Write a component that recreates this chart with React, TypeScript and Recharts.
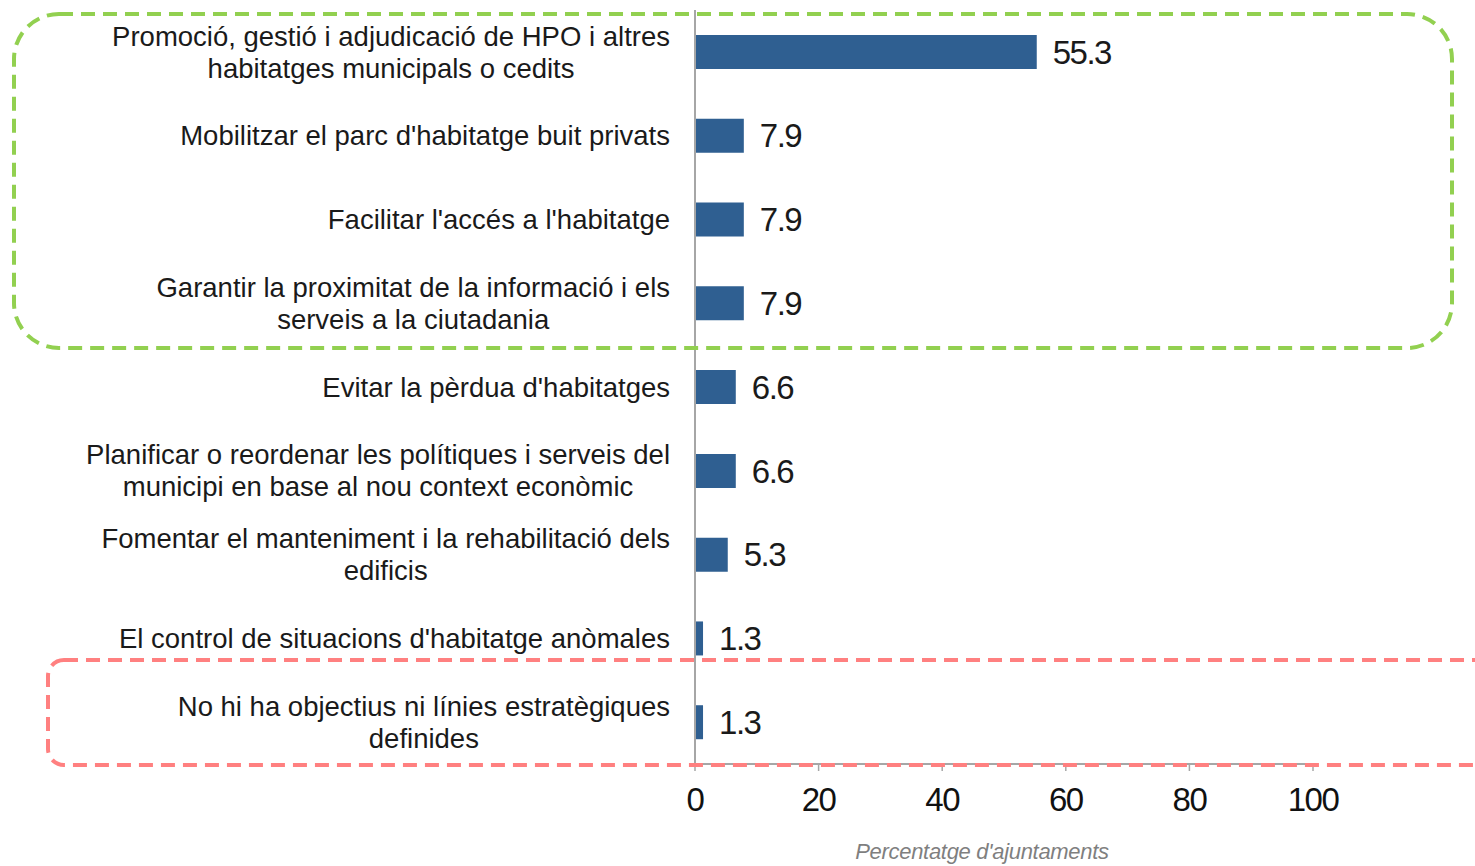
import React from "react";
import { BarChart, Bar, XAxis, YAxis, LabelList, Label } from "recharts";

const categories = [
  "Promoció, gestió i adjudicació de HPO i altres\nhabitatges municipals o cedits",
  "Mobilitzar el parc d'habitatge buit privats",
  "Facilitar l'accés a l'habitatge",
  "Garantir la proximitat de la informació i els\nserveis a la ciutadania",
  "Evitar la pèrdua d'habitatges",
  "Planificar o reordenar les polítiques i serveis del\nmunicipi en base al nou context econòmic",
  "Fomentar el manteniment i la rehabilitació dels\nedificis",
  "El control de situacions d'habitatge anòmales",
  "No hi ha objectius ni línies estratègiques\ndefinides",
];
const percentages = [55.3, 7.9, 7.9, 7.9, 6.6, 6.6, 5.3, 1.3, 1.3];
const xTicks = [0, 20, 40, 60, 80, 100];
const axisTitle = "Percentatge d'ajuntaments";

const data = categories.map((name, i) => ({ name, value: percentages[i] }));

const LABEL_FONT_SIZE = 27.5;
const LABEL_FAMILY = "'Liberation Sans', Arial, sans-serif";
const NARROW = "'Liberation Sans Narrow', 'Arial Narrow', 'Liberation Sans', sans-serif";
const AXIS_GREY = "#a6a6a6";

let measureCtx: CanvasRenderingContext2D | null = null;
function textWidth(s: string) {
  if (!measureCtx) {
    measureCtx = document.createElement("canvas").getContext("2d");
  }
  if (!measureCtx) return s.length * LABEL_FONT_SIZE * 0.5;
  measureCtx.font = `${LABEL_FONT_SIZE}px ${LABEL_FAMILY}`;
  return measureCtx.measureText(s).width;
}

// multi-line label, lines centred on each other, right edge at the tick x
function CategoryTick(props: any) {
  const { x, y, payload } = props;
  const lines: string[] = String(payload.value).split("\n");
  const w = Math.max(...lines.map(textWidth));
  const cx = x - w / 2;
  const lh = 32;
  const y0 = y - ((lines.length - 1) * lh) / 2;
  return (
    <text textAnchor="middle" fontFamily={LABEL_FAMILY} fontSize={LABEL_FONT_SIZE} fill="#1a1a1a">
      {lines.map((l, i) => (
        <tspan key={i} x={cx} y={y0 + i * lh} dy="0.35em">
          {l}
        </tspan>
      ))}
    </text>
  );
}

function AxisTitle(props: any) {
  const { viewBox } = props;
  return (
    <text
      x={viewBox.x + viewBox.width / 2 - 22}
      y={viewBox.y + 95}
      textAnchor="middle"
      fontFamily={NARROW}
      fontStyle="italic"
      fontSize={22}
      letterSpacing={-0.3}
      fill="#7f7f7f"
    >
      {axisTitle}
    </text>
  );
}

export default function App() {
  return (
    <div style={{ position: "absolute", left: 0, top: 0, width: 1475, height: 866, background: "#fff" }}>
      <BarChart
        width={1475}
        height={866}
        data={data}
        layout="vertical"
        margin={{ top: 10, right: 162, left: 0, bottom: 0 }}
      >
        <XAxis
          type="number"
          domain={[0, 100]}
          ticks={xTicks}
          height={102}
          axisLine={{ stroke: AXIS_GREY, strokeWidth: 2 }}
          tickLine={{ stroke: AXIS_GREY, strokeWidth: 1.5 }}
          tickSize={7}
          tickMargin={17}
          tick={{ fontFamily: NARROW, fontSize: 33, fill: "#111", letterSpacing: -1.5 }}
        >
          <Label content={<AxisTitle />} />
        </XAxis>
        <YAxis
          type="category"
          dataKey="name"
          width={695}
          axisLine={{ stroke: AXIS_GREY, strokeWidth: 2 }}
          tickLine={false}
          tickSize={0}
          tickMargin={25}
          tick={<CategoryTick />}
          interval={0}
        />
        <Bar dataKey="value" fill="#2F5F91" barSize={34} isAnimationActive={false}>
          <LabelList
            dataKey="value"
            position="right"
            offset={16}
            formatter={(v: any) => Number(v).toFixed(1)}
            style={{ fontFamily: NARROW, fontSize: 33, fill: "#1a1a1a", letterSpacing: -1.5 }}
          />
        </Bar>
      </BarChart>
      <svg
        width={1475}
        height={866}
        style={{ position: "absolute", left: 0, top: 0, pointerEvents: "none" }}
      >
        <rect x={14} y={14} width={1438} height={334} rx={45} ry={45}
          fill="none" stroke="#92D050" strokeWidth={4} strokeDasharray="14 8" />
        <rect x={48} y={660} width={1445} height={105} rx={16} ry={16}
          fill="none" stroke="#FF8080" strokeWidth={4} strokeDasharray="14 8" />
      </svg>
    </div>
  );
}
